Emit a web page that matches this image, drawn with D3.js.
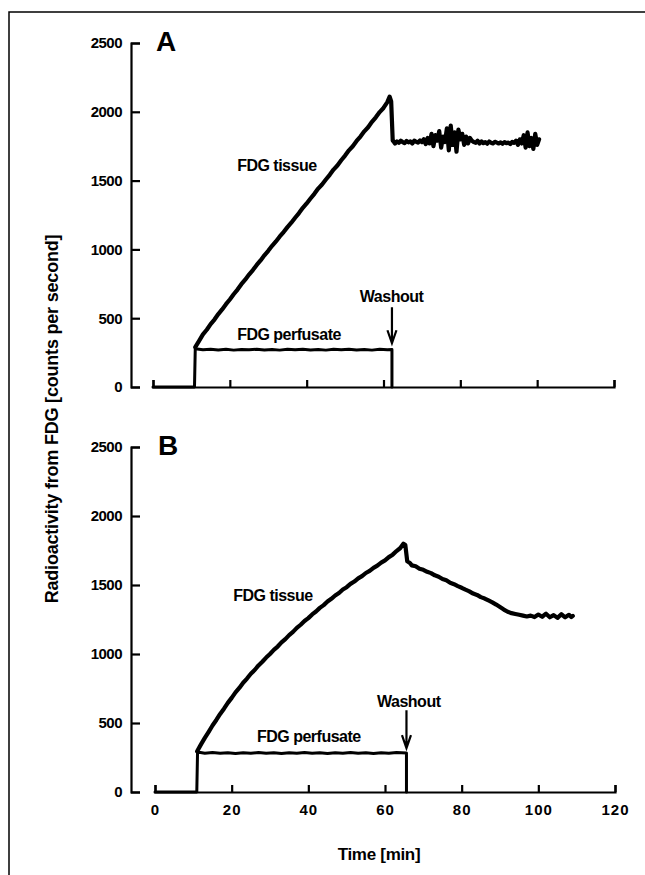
<!DOCTYPE html>
<html>
<head>
<meta charset="utf-8">
<title>FDG radioactivity</title>
<style>
  body { margin: 0; background: #fff; overflow: hidden; }
  svg { display: block; font-family: "Liberation Sans", Arial, sans-serif; }
  .axis path, .axis line { stroke: #000; stroke-width: 2.2; }
  .axis text { font-size: 15px; font-weight: bold; fill: #000; }
  .trace { fill: none; stroke: #000; stroke-linejoin: round; stroke-linecap: round; }
  .lbl { font-size: 16px; font-weight: bold; letter-spacing: -0.5px; }
</style>
</head>
<body>
<svg id="chart" width="645" height="875"></svg>
<script src="https://cdnjs.cloudflare.com/ajax/libs/d3/7.8.5/d3.min.js"></script>
<script>
// ---- data (time in min, radioactivity in counts per second) ----
var xTicks = [0, 20, 40, 60, 80, 100, 120];
var yTicks = [0, 500, 1000, 1500, 2000, 2500];

// panel A
var perfusateA = [[0,0],[10.8,0],[11,278],[13,270],[15,275],[17,269],[19,274],[21,268],[23,273],[25,270],[27,275],
  [29,269],[31,273],[33,268],[35,274],[37,270],[39,275],[41,269],[43,273],[45,268],[47,274],[49,270],[51,275],
  [53,269],[55,273],[57,268],[59,274],[61,271],[62.2,272],[62.2,0]];

var tissueA = [[11,290],[12,335],[13,382],[14,416],[15,457],[16,490],[17,530],[18,564],[19,602],[20,636],[21,674],
  [22,708],[23,747],[24,780],[25,817],[26,850],[27,887],[28,920],[29,957],[30,990],[31,1026],[32,1058],[33,1094],
  [34,1126],[35,1162],[36,1194],[37,1230],[38,1264],[39,1302],[40,1334],[41,1370],[42,1404],[43,1442],[44,1472],
  [45,1508],[46,1542],[47,1580],[48,1610],[49,1648],[50,1682],[51,1720],[52,1750],[53,1788],[54,1820],[55,1858],
  [56,1888],[57,1927],[58,1960],[59,1998],[60,2028],[61,2070],[61.6,2110],[62.0,2075],[62.4,1790],
  [62.5,1790],[63,1770],[63.5,1785],[64,1775],[64.5,1790],[65,1780],[65.5,1772],[66,1788],[66.5,1778],[67,1785],
  [67.5,1770],[68,1790],[68.5,1782],[69,1776],[69.5,1792],[70,1780],[70.5,1800],[71,1765],[71.5,1810],[72,1770],
  [72.5,1840],[73,1750],[73.5,1830],[74,1790],[74.5,1860],[75,1740],[75.5,1820],[76,1780],[76.5,1880],[77,1720],
  [77.5,1900],[78,1760],[78.5,1850],[79,1710],[79.5,1870],[80,1800],[80.5,1840],[81,1760],[81.5,1820],[82,1770],
  [82.5,1810],[83,1790],[83.5,1780],[84,1775],[84.5,1790],[85,1770],[85.5,1785],[86,1772],[86.5,1780],[87,1768],
  [87.5,1784],[88,1775],[88.5,1770],[89,1782],[89.5,1776],[90,1770],[90.5,1778],[91,1768],[91.5,1780],[92,1772],
  [92.5,1776],[93,1766],[93.5,1782],[94,1774],[94.5,1790],[95,1760],[95.5,1800],[96,1770],[96.5,1830],[97,1740],
  [97.5,1850],[98,1750],[98.5,1810],[99,1730],[99.5,1840],[100,1760],[100.5,1800]];

// panel B
var perfusateB = [[0,0],[10.9,0],[11.1,290],[13,281],[15,286],[17,280],[19,285],[21,279],[23,284],[25,281],[27,286],
  [29,280],[31,284],[33,279],[35,285],[37,281],[39,286],[41,280],[43,284],[45,279],[47,285],[49,281],[51,286],
  [53,280],[55,284],[57,279],[59,285],[61,281],[63,286],[65.6,283],[65.6,0]];

var tissueB = [[11,295],[12,345],[13,392],[14,436],[15,482],[16,522],[17,566],[18,604],[19,646],[20,682],[21,722],
  [22,754],[23,792],[24,822],[25,857],[26,884],[27,917],[28,944],[29,974],[30,1000],[31,1030],[32,1054],[33,1084],
  [34,1108],[35,1137],[36,1160],[37,1189],[38,1212],[39,1239],[40,1260],[41,1287],[42,1308],[43,1334],[44,1354],
  [45,1380],[46,1400],[47,1424],[48,1442],[49,1467],[50,1484],[51,1508],[52,1525],[53,1548],[54,1564],[55,1587],
  [56,1602],[57,1624],[58,1640],[59,1662],[60,1678],[61,1702],[62,1720],[63,1746],[64,1768],[64.8,1800],[65.3,1790],
  [65.8,1672],[66.5,1660],[67,1642],[68,1636],[69,1618],[70,1610],[71,1596],[72,1586],[73,1570],[74,1560],[75,1543],
  [76,1534],[77,1516],[78,1506],[79,1492],[80,1480],[81,1466],[82,1454],[83,1438],[84,1428],[85,1412],[86,1402],
  [87,1388],[88,1374],[89,1358],[90,1340],[91,1322],[92,1306],[93,1296],[94,1290],[95,1284],[96,1278],[97,1272],
  [98,1278],[99,1268],[100,1286],[101,1270],[102,1292],[103,1266],[104,1282],[105,1262],[106,1288],[107,1266],
  [108,1284],[108.6,1268],[109,1276]];

var panels = [
  { name: "A", perfusate: perfusateA, tissue: tissueA, washout: 62.2, arrow: [580, 318],
    tissueLbl: [21.9, 1570], perfLbl: [21.9, 342], washLbl: [62.1, 618], xLabels: false,
    xr: [153, 614], yr: [387, 43] },
  { name: "B", perfusate: perfusateB, tissue: tissueB, washout: 65.6, arrow: [592, 318],
    tissueLbl: [20.4, 1387], perfLbl: [26.6, 361], washLbl: [66.2, 614], xLabels: true,
    xr: [155, 615], yr: [792, 447] }
];

var svg = d3.select("#chart");

// frame of the scanned figure (only top and left edges show)
svg.append("path").attr("d", "M9,875V12H645")
  .attr("fill", "none").attr("stroke", "#000").attr("stroke-width", 1.5);

panels.forEach(function (p) {
  var x = d3.scaleLinear().domain([0, 120]).range(p.xr);
  var y = d3.scaleLinear().domain([0, 2500]).range(p.yr);
  var g = svg.append("g");

  g.append("g").attr("class", "axis").attr("transform", "translate(131,0)")
    .call(d3.axisLeft(y).tickValues(yTicks).tickSize(-9).tickSizeOuter(-9).tickPadding(9)
      .tickFormat(d3.format("d")))
    .selectAll("text").attr("letter-spacing", "-0.5px");

  var xa = g.append("g").attr("class", "axis").attr("transform", "translate(0," + p.yr[0] + ")")
    .call(d3.axisBottom(x).tickValues(xTicks).tickSize(-7).tickSizeOuter(-7).tickPadding(12)
      .tickFormat(p.xLabels ? d3.format("d") : function () { return ""; }));
  xa.selectAll("text").attr("letter-spacing", "1px");

  var line = d3.line().x(function (d) { return x(d[0]); }).y(function (d) { return y(d[1]); });

  g.append("path").attr("class", "trace").attr("d", line(p.perfusate)).attr("stroke-width", 3);
  g.append("path").attr("class", "trace").attr("d", line(p.tissue)).attr("stroke-width", 4.2);

  // washout arrow
  var ax = x(p.washout), y0 = y(p.arrow[0]), y1 = y(p.arrow[1]);
  g.append("path").attr("fill", "none").attr("stroke", "#000").attr("stroke-width", 2.2)
    .attr("d", "M" + ax + "," + y0 + "V" + y1 + "M" + (ax - 4.5) + "," + (y1 - 13) + "L" + ax + "," + y1 + "L" + (ax + 4.5) + "," + (y1 - 13));

  g.append("text").attr("class", "lbl").attr("x", x(p.tissueLbl[0])).attr("y", y(p.tissueLbl[1])).text("FDG tissue");
  g.append("text").attr("class", "lbl").attr("x", x(p.perfLbl[0])).attr("y", y(p.perfLbl[1])).text("FDG perfusate");
  g.append("text").attr("class", "lbl").attr("x", x(p.washLbl[0])).attr("y", y(p.washLbl[1]))
    .attr("text-anchor", "middle").text("Washout");

  g.append("text").attr("x", x(0) + 3).attr("y", y(2500) + 8)
    .attr("font-size", 28).attr("font-weight", "bold").text(p.name);
});

svg.append("text").attr("transform", "translate(58,419) rotate(-90)").attr("text-anchor", "middle")
  .attr("font-size", 18).attr("font-weight", "bold").attr("letter-spacing", "-0.2px")
  .text("Radioactivity from FDG [counts per second]");

svg.append("text").attr("x", 379).attr("y", 860).attr("text-anchor", "middle")
  .attr("font-size", 17).attr("font-weight", "bold").attr("letter-spacing", "-0.3px")
  .text("Time [min]");
</script>
</body>
</html>
